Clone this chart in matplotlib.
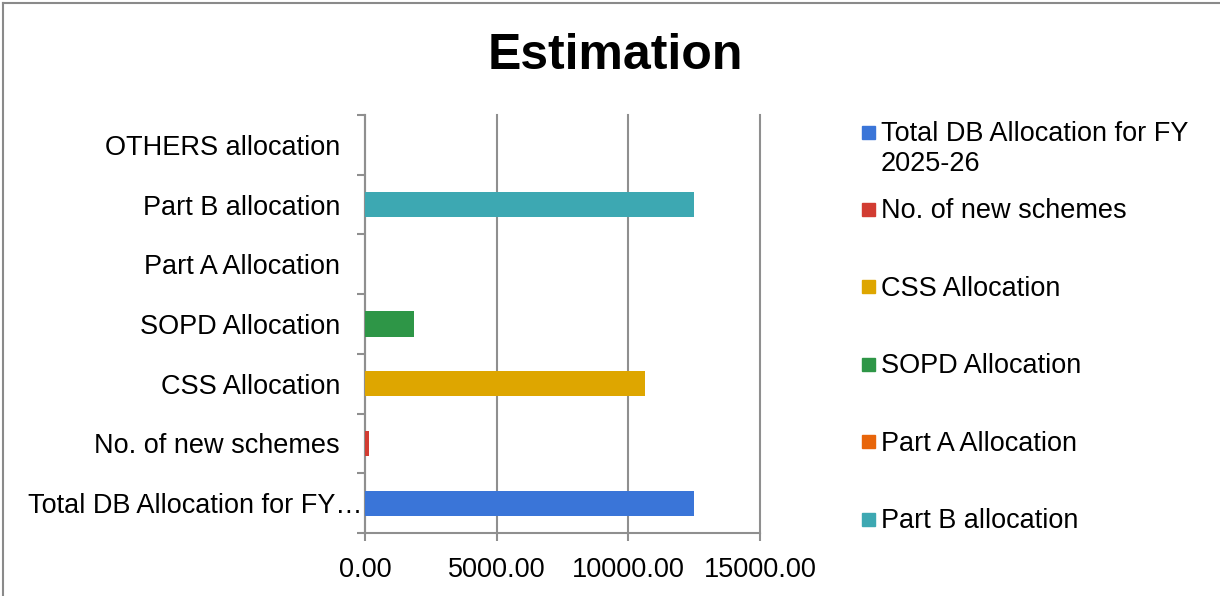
import matplotlib.pyplot as plt
from matplotlib.patches import Rectangle
from matplotlib.lines import Line2D
from matplotlib.transforms import ScaledTranslation

plt.rcParams['font.family'] = ['Liberation Sans', 'DejaVu Sans']

# categories (bottom to top) and values
categories = ['Total DB Allocation for FY…', 'No. of new schemes', 'CSS Allocation',
              'SOPD Allocation', 'Part A Allocation', 'Part B allocation', 'OTHERS allocation']
values = [12490, 150, 10630, 1860, 0, 12490, 0]
colors = ['#3A75D8', '#D23C32', '#DEA600', '#2E9647', '#E8650A', '#3DA8B2', '#3DA8B2']
legend_labels = ['Total DB Allocation for FY\n2025-26', 'No. of new schemes', 'CSS Allocation',
                 'SOPD Allocation', 'Part A Allocation', 'Part B allocation']
xticks = [0, 5000, 10000, 15000]

fig = plt.figure(figsize=(12.2, 5.96), dpi=100)
ax = fig.add_axes([365/1220, 1-533/596, (760-365)/1220, (533-115)/596])

ypos = list(range(len(categories)))
ax.barh(ypos, values, height=0.42, color=colors, zorder=3)

ax.set_xlim(0, 15000)
ax.set_ylim(-0.5, len(categories)-0.5)
ax.set_xticks(xticks)
ax.set_xticklabels(['%.2f' % v for v in xticks])
ax.set_yticks(ypos)
ax.set_yticklabels(categories)
ax.set_yticks([i-0.5 for i in range(len(categories)+1)], minor=True)

grey = '#8f8f8f'
ax.grid(axis='x', color=grey, lw=1.5, zorder=0)
for gl in ax.get_xgridlines():
    gl.set_clip_on(False)
for s in ['top', 'right']:
    ax.spines[s].set_visible(False)
for s in ['left', 'bottom']:
    ax.spines[s].set_color(grey)
    ax.spines[s].set_linewidth(1.5)
fs = 19.5
ax.tick_params(axis='y', which='major', length=0, pad=18, labelsize=fs)
ax.tick_params(axis='y', which='minor', length=6, width=1.5, color=grey)
ax.tick_params(axis='x', which='major', length=6, width=1.5, color=grey, pad=11, labelsize=fs)

# the truncated label runs up to the axis, like in Excel
lbl = ax.get_yticklabels()[0]
lbl.set_transform(lbl.get_transform() + ScaledTranslation(0.22, 0, fig.dpi_scale_trans))

fig.text(615/1220, 1-56/596, 'Estimation', ha='center', va='center', fontsize=36, fontweight='bold')

# legend drawn by hand, Excel-like spacing
for i, (lab, c) in enumerate(zip(legend_labels, colors)):
    yc = 132 + 77.4*i
    fig.patches.append(Rectangle((862/1220, 1-(yc+6.5)/596), 13/1220, 13/596,
                                 transform=fig.transFigure, color=c))
    fig.text(881/1220, 1-(yc-11)/596, lab, ha='left', va='top', fontsize=fs, linespacing=1.21)

# chart border
fig.lines.append(Line2D([3/1220, 3/1220], [0, 1-3/596], transform=fig.transFigure, color='#8a8a8a', lw=1.5))
fig.lines.append(Line2D([3/1220, 1], [1-3/596, 1-3/596], transform=fig.transFigure, color='#8a8a8a', lw=1.5))

fig.savefig('out.png', dpi=100)
